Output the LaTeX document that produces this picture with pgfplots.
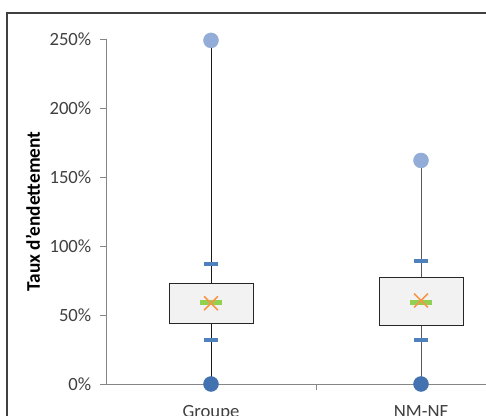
\documentclass[border=0pt]{standalone}
\usepackage{pgfplots}
\pgfplotsset{compat=1.18}
\usepackage{fontspec}
\setmainfont{Carlito}
\definecolor{axisgray}{HTML}{868686}
\definecolor{txtgray}{HTML}{404040}
\definecolor{dashblue}{HTML}{4F81BD}
\definecolor{maxblue}{HTML}{93ACD8}
\definecolor{minblue}{HTML}{4372B0}
\definecolor{medgreen}{HTML}{92D050}
\definecolor{meanorange}{HTML}{F79646}
\definecolor{boxfill}{HTML}{F2F2F2}

\begin{document}
\begin{tikzpicture}
  \begin{axis}[
      anchor=south west,
      at={(0,0)},
      scale only axis,
      width=285pt, height=258.75pt,
      xmin=0.5, xmax=2.3095,
      ymin=0, ymax=250,
      clip=false,
      axis x line=bottom, axis y line=left,
      axis line style={-, draw=axisgray, line width=0.6pt},
      every tick/.style={draw=axisgray, line width=0.6pt},
      tick align=outside,
      major tick length=4.5pt,
      xtick={1,2},
      xticklabels={Groupe, NM-NF},
      x tick style={draw=none},
      extra x ticks={1.5},
      extra x tick labels={},
      extra x tick style={x tick style={draw=axisgray}},
      ytick={0,50,100,150,200,250},
      yticklabel={\pgfmathprintnumber[assume math mode=true]{\tick}\%},
      ticklabel style={font=\fontsize{14}{16}\selectfont, text=txtgray},
      xticklabel style={yshift=-8pt},
      yticklabel style={xshift=-3pt},
      ylabel={Taux d'endettement},
      ylabel style={font=\fontsize{14.5}{17}\selectfont\bfseries,
        at={(axis description cs:-0.192,0.5)}, anchor=center, rotate=0},
    ]
    % whiskers
    \addplot[black!90, line width=0.6pt] coordinates {(1,0) (1,249)};
    \addplot[black!65, line width=0.6pt] coordinates {(2,0) (2,162)};
    % boxes
    \addplot[draw=black!85, fill=boxfill, line width=0.6pt] coordinates {(0.8,44.2) (1.2,44.2) (1.2,73.2) (0.8,73.2)} -- cycle;
    \addplot[draw=black!85, fill=boxfill, line width=0.6pt] coordinates {(1.8,42.3) (2.2,42.3) (2.2,77.5) (1.8,77.5)} -- cycle;
    % blue dashes
    \addplot[only marks, dashblue, mark=-, mark size=5.6pt, mark options={line width=3pt}]
      coordinates {(1,87.2) (1,32.1) (2,89.3) (2,32.1)};
    % medians
    \addplot[only marks, medgreen, mark=-, mark size=7.9pt, mark options={line width=3.7pt}]
      coordinates {(1,58.8) (2,59.2)};
    % means
    \addplot[only marks, meanorange, mark=x, mark size=7.4pt, mark options={line width=1.1pt}]
      coordinates {(1,58.5) (2,60.5)};
    % max
    \addplot[only marks, maxblue, mark=*, mark size=5.6pt, mark options={draw=maxblue, fill=maxblue}]
      coordinates {(1,249) (2,162)};
    % min
    \addplot[only marks, minblue, mark=*, mark size=5.6pt, mark options={draw=minblue, fill=minblue}]
      coordinates {(1,0) (2,0)};
  \end{axis}
  \draw[black!75, line width=1.5pt] (-74.25pt,278.25pt) rectangle (300pt,-40pt);
  \pgfresetboundingbox
  \useasboundingbox (-79.5pt,-23.25pt) rectangle (285pt,288pt);
\end{tikzpicture}
\end{document}
